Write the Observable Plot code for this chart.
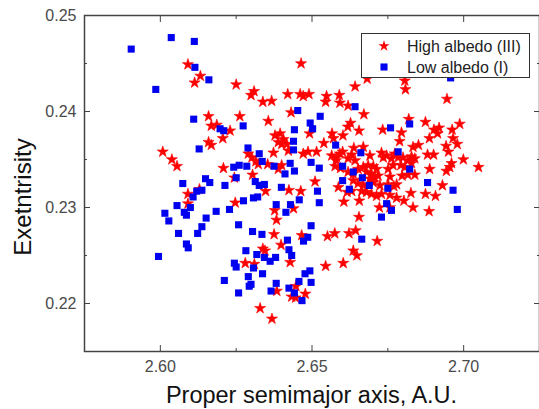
<!DOCTYPE html>
<html><head><meta charset="utf-8">
<script src="https://cdn.jsdelivr.net/npm/d3@7"></script>
<script src="https://cdn.jsdelivr.net/npm/@observablehq/plot@0.6"></script>
<style>
body{margin:0;background:#fff;overflow:hidden}
#wrap{position:relative;width:539px;height:409px;background:#fff}
#legend{position:absolute;left:361px;top:33px;width:169px;height:45px;box-sizing:border-box;border:1px solid #333;background:#fff}
#legend svg{display:block}
</style></head><body><div id="wrap"></div>
<script>
// High albedo (III): [proper semimajor axis (A.U.), eccentricity]
const highAlbedo = [
[2.6091,0.2449],[2.6132,0.2437],[2.6113,0.2430],[2.6250,0.2428],[2.6159,0.2395],[2.6262,0.2395],[2.6168,0.2385],[2.6186,0.2386],
[2.6230,0.2380],[2.6206,0.2372],[2.6159,0.2368],[2.6168,0.2365],[2.6008,0.2358],[2.6038,0.2350],[2.6055,0.2343],[2.6208,0.2341],
[2.6244,0.2331],[2.6091,0.2314],[2.6129,0.2319],[2.6091,0.2304],[2.6247,0.2305],[2.6464,0.2450],[2.6309,0.2421],[2.6299,0.2417],
[2.6338,0.2410],[2.6367,0.2411],[2.6420,0.2418],[2.6461,0.2418],[2.6471,0.2416],[2.6490,0.2418],[2.6548,0.2416],[2.6545,0.2410],
[2.6590,0.2417],[2.6592,0.2409],[2.6619,0.2406],[2.6642,0.2426],[2.6671,0.2397],[2.6431,0.2399],[2.6356,0.2390],[2.6492,0.2377],
[2.6378,0.2375],[2.6395,0.2377],[2.6406,0.2371],[2.6389,0.2368],[2.6400,0.2366],[2.6417,0.2366],[2.6422,0.2359],[2.6566,0.2377],
[2.6571,0.2372],[2.6602,0.2375],[2.6627,0.2388],[2.6618,0.2384],[2.6655,0.2380],[2.6539,0.2367],[2.6638,0.2362],[2.6601,0.2358],
[2.6471,0.2356],[2.6487,0.2358],[2.6515,0.2358],[2.6565,0.2354],[2.6581,0.2352],[2.6579,0.2349],[2.6592,0.2356],[2.6631,0.2355],
[2.6619,0.2351],[2.6642,0.2349],[2.6669,0.2363],[2.6691,0.2354],[2.6729,0.2357],[2.6735,0.2352],[2.6746,0.2354],[2.6762,0.2351],
[2.6773,0.2356],[2.6290,0.2356],[2.6302,0.2352],[2.6315,0.2348],[2.6323,0.2345],[2.6373,0.2357],[2.6354,0.2345],[2.6400,0.2344],
[2.6389,0.2340],[2.6576,0.2343],[2.6594,0.2341],[2.6304,0.2334],[2.6619,0.2337],[2.6636,0.2335],[2.6652,0.2340],[2.6669,0.2342],
[2.6685,0.2344],[2.6702,0.2343],[2.6713,0.2340],[2.6680,0.2337],[2.6696,0.2335],[2.6707,0.2331],[2.6718,0.2333],[2.6691,0.2330],
[2.6751,0.2340],[2.6767,0.2344],[2.6757,0.2332],[2.6636,0.2328],[2.6652,0.2325],[2.6669,0.2323],[2.6685,0.2324],[2.6702,0.2326],
[2.6724,0.2323],[2.6751,0.2324],[2.6770,0.2322],[2.6510,0.2327],[2.6587,0.2321],[2.6616,0.2316],[2.6631,0.2317],[2.6664,0.2317],
[2.6680,0.2316],[2.6696,0.2314],[2.6713,0.2312],[2.6729,0.2314],[2.6424,0.2318],[2.6463,0.2317],[2.6656,0.2307],[2.6605,0.2306],
[2.6722,0.2300],[2.6377,0.2297],[2.6439,0.2299],[2.6655,0.2290],[2.6757,0.2300],[2.6682,0.2434],[2.6806,0.2432],[2.6808,0.2423],
[2.6945,0.2413],[2.6819,0.2392],[2.6874,0.2389],[2.6987,0.2387],[2.6733,0.2381],[2.6795,0.2378],[2.6902,0.2381],[2.6919,0.2383],
[2.6914,0.2377],[2.6962,0.2381],[2.6965,0.2372],[2.6979,0.2366],[2.6887,0.2372],[2.6789,0.2369],[2.6833,0.2363],[2.6851,0.2365],
[2.6942,0.2364],[2.6950,0.2358],[2.6800,0.2352],[2.6816,0.2349],[2.6784,0.2352],[2.6828,0.2353],[2.6839,0.2351],[2.6881,0.2355],
[2.6901,0.2355],[2.6999,0.2350],[2.7049,0.2342],[2.6960,0.2346],[2.6954,0.2342],[2.6943,0.2338],[2.6888,0.2340],[2.6793,0.2344],
[2.6806,0.2342],[2.6828,0.2346],[2.6797,0.2333],[2.6816,0.2334],[2.6839,0.2334],[2.6779,0.2324],[2.6930,0.2323],[2.6874,0.2314],
[2.6907,0.2312],[2.6826,0.2315],[2.6803,0.2307],[2.6833,0.2300],[2.6886,0.2296],[2.6779,0.2310],[2.6757,0.2313],[2.6347,0.2317],
[2.6383,0.2287],[2.6375,0.2272],[2.6466,0.2271],[2.6398,0.2261],[2.6551,0.2270],[2.6575,0.2273],[2.6622,0.2273],[2.6644,0.2276],
[2.6338,0.2257],[2.6345,0.2255],[2.6280,0.2242],[2.6310,0.2241],[2.6428,0.2243],[2.6545,0.2239],[2.6603,0.2242],[2.6636,0.2255],
[2.6648,0.2250],[2.6447,0.2218],[2.6384,0.2213],[2.6478,0.2210],[2.6433,0.2207],[2.6446,0.2206],[2.6329,0.2195],[2.6368,0.2184],
[2.6715,0.2265]
];
// Low albedo (I)
const lowAlbedo = [
[2.5904,0.2465],[2.6036,0.2477],[2.6112,0.2473],[2.6114,0.2446],[2.6160,0.2433],[2.5985,0.2423],[2.6110,0.2392],[2.6197,0.2382],
[2.6209,0.2380],[2.6128,0.2361],[2.6242,0.2342],[2.6260,0.2344],[2.6285,0.2343],[2.6273,0.2385],[2.6289,0.2362],[2.6326,0.2356],
[2.6336,0.2348],[2.6453,0.2401],[2.6527,0.2395],[2.6494,0.2388],[2.6502,0.2382],[2.6442,0.2381],[2.6642,0.2405],[2.6439,0.2369],
[2.6439,0.2360],[2.6428,0.2346],[2.6497,0.2347],[2.6578,0.2365],[2.6661,0.2357],[2.6375,0.2343],[2.6411,0.2335],[2.6442,0.2338],
[2.6524,0.2341],[2.6601,0.2343],[2.6636,0.2337],[2.6957,0.2435],[2.6759,0.2383],[2.6822,0.2387],[2.6784,0.2358],[2.6822,0.2340],
[2.6881,0.2326],[2.6965,0.2318],[2.6979,0.2298],[2.6666,0.2331],[2.6689,0.2323],[2.6750,0.2320],[2.6746,0.2304],[2.6762,0.2297],
[2.6729,0.2290],[2.6664,0.2267],[2.6601,0.2328],[2.6623,0.2319],[2.6399,0.2321],[2.6518,0.2317],[2.6458,0.2308],[2.6524,0.2305],
[2.6382,0.2303],[2.6414,0.2295],[2.6429,0.2303],[2.6313,0.2327],[2.6326,0.2323],[2.6343,0.2324],[2.6321,0.2311],[2.6307,0.2310],
[2.6274,0.2307],[2.6258,0.2282],[2.6304,0.2275],[2.6335,0.2272],[2.6497,0.2281],[2.6419,0.2266],[2.6472,0.2265],[2.6486,0.2269],
[2.6282,0.2255],[2.6318,0.2251],[2.6424,0.2256],[2.6433,0.2250],[2.6343,0.2248],[2.6362,0.2244],[2.6380,0.2248],[2.6307,0.2237],
[2.6290,0.2228],[2.6337,0.2231],[2.6299,0.2220],[2.6293,0.2218],[2.6258,0.2211],[2.6365,0.2213],[2.6382,0.2221],[2.6424,0.2216],
[2.6457,0.2223],[2.6477,0.2231],[2.6493,0.2234],[2.6497,0.2222],[2.6442,0.2211],[2.6467,0.2203],[2.6074,0.2325],[2.6149,0.2330],
[2.6163,0.2326],[2.6213,0.2323],[2.6250,0.2331],[2.6120,0.2317],[2.6137,0.2318],[2.6108,0.2311],[2.6055,0.2302],[2.6099,0.2300],
[2.6015,0.2294],[2.6028,0.2286],[2.6079,0.2295],[2.6086,0.2292],[2.6184,0.2296],[2.6228,0.2298],[2.6151,0.2289],[2.6137,0.2280],
[2.6060,0.2273],[2.6123,0.2273],[2.6086,0.2262],[2.6092,0.2258],[2.5994,0.2249],[2.6244,0.2242],[2.6250,0.2238],[2.6211,0.2224]
];
const seriesNames = ["High albedo (III)", "Low albedo (I)"];
const seriesColors = ["#ff0000", "#0000f0"];
const xDomain = [2.575, 2.725];
const yDomain = [0.215, 0.25];
const xTicks = [2.60, 2.65, 2.70];
const xMinorTicks = [2.625, 2.675];
const yTicks = [0.22, 0.23, 0.24, 0.25];
const yMinorTicks = [0.225, 0.235, 0.245];
const xLabel = "Proper semimajor axis, A.U.";
const yLabel = "Exetntrisity";

const high = highAlbedo.map(([a, e]) => ({a, e}));
const low = lowAlbedo.map(([a, e]) => ({a, e}));
const blank = () => "";
const axisColor = "#444";
const fontFamily = '"Liberation Sans", Arial, sans-serif';

const chart = Plot.plot({
  width: 539, height: 409,
  marginLeft: 84, marginRight: 0, marginTop: 15, marginBottom: 58,
  style: {fontFamily, fontSize: "16px", color: "#4a4a4a", background: "white", overflow: "visible"},
  x: {domain: xDomain, label: null},
  y: {domain: yDomain, label: null},
  marks: [
    Plot.dot(high, {x: "a", y: "e", symbol: "star", r: 3.5, fill: seriesColors[0], stroke: seriesColors[0], strokeWidth: 0.6}),
    Plot.dot(low, {x: "a", y: "e", symbol: "square", r: 4, fill: seriesColors[1], stroke: "none"}),
    Plot.axisX(xTicks, {anchor: "bottom", tickSize: -6, tickFormat: blank, stroke: axisColor}),
    Plot.axisX(xMinorTicks, {anchor: "bottom", tickSize: -3, tickFormat: blank, stroke: axisColor}),
    Plot.axisX(xTicks, {anchor: "bottom", tickSize: 0, tickPadding: 9, tickFormat: d3.format(".2f")}),
    Plot.axisX(xTicks, {anchor: "top", tickSize: -6, tickFormat: blank, stroke: axisColor}),
    Plot.axisX(xMinorTicks, {anchor: "top", tickSize: -3, tickFormat: blank, stroke: axisColor}),
    Plot.axisY(yTicks, {anchor: "left", tickSize: -6, tickFormat: blank, stroke: axisColor}),
    Plot.axisY(yMinorTicks, {anchor: "left", tickSize: -3, tickFormat: blank, stroke: axisColor}),
    Plot.axisY(yTicks, {anchor: "left", tickSize: 0, tickPadding: 8, tickFormat: d3.format(".2f")}),
    Plot.axisY(yTicks, {anchor: "right", tickSize: -6, tickFormat: blank, stroke: axisColor}),
    Plot.axisY(yMinorTicks, {anchor: "right", tickSize: -3, tickFormat: blank, stroke: axisColor}),
    Plot.frame({stroke: axisColor, strokeWidth: 1.5})
  ]
});
const wrap = document.getElementById("wrap");
wrap.appendChild(chart);

// axis titles
const svgSel = d3.select(chart);
svgSel.append("text")
  .attr("transform", "translate(31,197) rotate(-90)")
  .attr("text-anchor", "middle").attr("fill", "#111")
  .style("font-family", fontFamily).style("font-size", "24px")
  .text(yLabel);
svgSel.append("text")
  .attr("x", 311.5).attr("y", 403)
  .attr("text-anchor", "middle").attr("fill", "#111")
  .style("font-family", fontFamily).style("font-size", "23.5px")
  .text(xLabel);

// legend (inside the plot frame, top right)
const leg = d3.select(wrap).append("div").attr("id", "legend");
const lsvg = leg.append("svg").attr("width", 167).attr("height", 43)
  .style("font-family", fontFamily).style("font-size", "16px");
const symbols = [d3.symbolStar, d3.symbolSquare];
const radii = [3.5, 4];
seriesNames.forEach((name, i) => {
  const cy = 12 + i * 21;
  lsvg.append("path")
    .attr("d", d3.symbol(symbols[i], Math.PI * radii[i] * radii[i])())
    .attr("transform", `translate(22,${cy})`)
    .attr("fill", seriesColors[i]);
  lsvg.append("text").attr("x", 45).attr("y", cy + 5.7).attr("fill", "#222").text(name);
});
</script>
</body></html>
